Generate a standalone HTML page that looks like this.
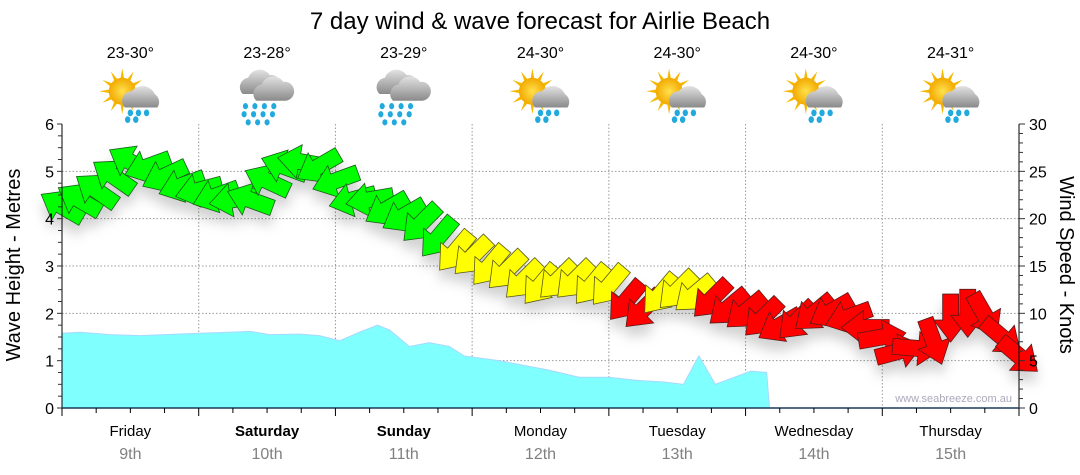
<!DOCTYPE html>
<html><head><meta charset="utf-8"><style>
body{margin:0;background:#fff;}
svg{display:block;font-family:"Liberation Sans","DejaVu Sans",sans-serif;}
</style></head><body>
<svg id="chart" width="1080" height="475" viewBox="0 0 1080 475">
<defs>
<filter id="shadow" x="-50%" y="-50%" width="200%" height="200%"><feDropShadow dx="0" dy="10" stdDeviation="6" flood-color="#000" flood-opacity="0.18"/></filter>
<radialGradient id="sunG" cx="50%" cy="50%" r="50%"><stop offset="0" stop-color="#ffe14d"/><stop offset="1" stop-color="#f2a900"/></radialGradient>
<linearGradient id="cloudG" x1="0" y1="0" x2="0" y2="1"><stop offset="0" stop-color="#e2e2e2"/><stop offset="1" stop-color="#8a8a8a"/></linearGradient>
</defs>
<text x="540" y="29" text-anchor="middle" font-size="24" fill="#000">7 day wind &amp; wave forecast for Airlie Beach</text>
<g id="grid"></g>
<g id="wave"></g>
<g id="wind" filter="url(#shadow)"></g>
<g id="axes"></g>
<g id="header"></g>
<text x="1012" y="402" text-anchor="end" font-size="11" fill="#aab">www.seabreeze.com.au</text>
<text transform="translate(20,265) rotate(-90)" text-anchor="middle" font-size="20" fill="#000">Wave Height - Metres</text>
<text transform="translate(1060,265) rotate(90)" text-anchor="middle" font-size="20" fill="#000">Wind Speed - Knots</text>
</svg>
<script>
const days = ["Friday","Saturday","Sunday","Monday","Tuesday","Wednesday","Thursday"];
const dates = ["9th","10th","11th","12th","13th","14th","15th"];
const boldDays = [false,true,true,false,false,false,false];
const temps = ["23-30°","23-28°","23-29°","24-30°","24-30°","24-30°","24-31°"];
const icons = ["suncloudrain","rain","rain","suncloudrain","suncloudrain","suncloudrain","suncloudrain"];
const waveHours = [0,3.2,8.4,13.7,18,24.2,29.4,33,36.4,41.7,45.2,48.7,52.2,55.4,57.5,61,64.5,68,70.6,76.7,85.5,90.8,96,101.3,105.7,109.1,111.8,114.7,120.9,123.7,124.2];
const waveHeights = [1.58,1.6,1.55,1.53,1.55,1.58,1.6,1.62,1.55,1.56,1.53,1.42,1.6,1.75,1.65,1.3,1.38,1.3,1.1,1.0,0.8,0.65,0.65,0.58,0.55,0.5,1.1,0.5,0.78,0.75,0];
const windSpeeds = [21.3,22,23,24.5,26,25.5,24.5,23.5,
 23,22.4,22,22,24,25.5,26,25.5,
 24,22,22,21,20.3,19.5,18,16.5,
 16,15,14.5,13.5,13,13.5,13.5,13,
 12.9,11.3,10.4,12,12.4,12,11.5,10.6,
 10.2,9.5,8.7,9.2,10,10.2,9.6,8.5,
 7.5,6,6.3,7,9.5,10,9.8,7.5,5.5];
const windBearings = [300,300,305,305,300,250,245,250,
 255,250,260,290,295,290,280,240,
 250,255,260,240,240,225,220,220,
 225,220,225,225,220,225,225,220,
 220,220,225,220,225,230,225,230,
 230,225,240,225,230,240,250,270,
 80,75,95,160,180,180,150,130,130];
const windStepHours = 3;

const NS="http://www.w3.org/2000/svg";
const X0=62, X1=1019, Y0=408, Y1=124;
const totalHours=168;
const xh = h => X0 + (X1-X0)*h/totalHours;
const ym = m => Y0 - (Y0-Y1)*m/6;
const yk = k => Y0 - (Y0-Y1)*k/30;
function mk(tag, attrs, parent, txt){const e=document.createElementNS(NS,tag);for(const k in attrs)e.setAttribute(k,attrs[k]);if(txt!==undefined)e.textContent=txt;parent.appendChild(e);return e;}
const grid=document.getElementById('grid'), axes=document.getElementById('axes'), wave=document.getElementById('wave'), wind=document.getElementById('wind'), header=document.getElementById('header');

for(let m=1;m<=5;m++){const l=mk('line',{x1:X0,x2:X1,y1:ym(m),y2:ym(m),stroke:'#999','stroke-dasharray':'1.5,2','stroke-width':1},grid);

}
for(let d=1;d<7;d++){const l=mk('line',{x1:xh(d*24),x2:xh(d*24),y1:Y1,y2:Y0,stroke:'#999','stroke-dasharray':'1.5,2','stroke-width':1},grid);

}

let pts = `${xh(waveHours[0])},${Y0} `;
waveHours.forEach((h,i)=>{pts+=`${xh(h)},${ym(waveHeights[i])} `;});
pts += `${xh(waveHours[waveHours.length-1])},${Y0}`;
const wa=mk('polygon',{points:pts,fill:'#80ffff',stroke:'#a8d8ff','stroke-width':1},wave);



windSpeeds.forEach((s,i)=>{
  const x=xh(i*windStepHours), y=yk(s);
  const fill = s>=17?'#00ff00':(s>=12?'#ffff00':'#ff0000');
  const stroke = s>=17?'#1a5a1a':(s>=12?'#5a5a1a':'#5a1a1a');
  const a=mk('polygon',{points:'-24,-8 2,-8 2,-17 24,0 2,17 2,8 -24,8',fill:fill,stroke:stroke,'stroke-width':0.8,
    transform:`translate(${x},${y}) rotate(${windBearings[i]-90})`},wind);
  
  
});

mk('line',{x1:X0,x2:X0,y1:Y1,y2:Y0,stroke:'#000'},axes);
mk('line',{x1:X1,x2:X1,y1:Y1,y2:Y0,stroke:'#000'},axes);
mk('line',{x1:X0,x2:X1,y1:Y0,y2:Y0,stroke:'#1a3a5a','stroke-width':1.5},axes);
for(let q=0;q<=24;q++){const m=q/4,y=ym(m);mk('line',{x1:X0-(q%4?4:5),x2:X0,y1:y,y2:y,stroke:'#333'},axes);
 if(q%4===0){const t=mk('text',{x:X0-8,y:y+6,'text-anchor':'end','font-size':16,fill:'#000'},axes,String(m));
 
 }}
for(let k=0;k<=30;k++){const y=yk(k);mk('line',{x1:X1,x2:X1+(k%5?4:6),y1:y,y2:y,stroke:'#333'},axes);
 if(k%5===0){const t=mk('text',{x:X1+10,y:y+6,'font-size':16,fill:'#000'},axes,String(k));
 
 }}
for(let h=0;h<=168;h+=6){const x=xh(h);mk('line',{x1:x,x2:x,y1:Y0,y2:Y0+(h%24?5:8),stroke:'#000'},axes);}
days.forEach((d,i)=>{const cx=xh(i*24+12);
 const t=mk('text',{x:cx,y:436,'text-anchor':'middle','font-size':15,fill:'#000','font-weight':boldDays[i]?'bold':'normal'},axes,d);
 
 
 const t2=mk('text',{x:cx,y:459,'text-anchor':'middle','font-size':16,fill:'#808080'},axes,dates[i]);
 
 
 const tt=mk('text',{x:cx,y:58,'text-anchor':'middle','font-size':16,fill:'#000'},header,temps[i]);
 
 
 const g=mk('g',{transform:`translate(${cx},94) scale(1.35)`},header);
 
 
 if(icons[i]==='suncloudrain'){
   for(let r=0;r<12;r++){mk('polygon',{points:'-3,0 3,0 0,-17',fill:'#f5b800',transform:`translate(-6,-2) rotate(${r*30})`},g);}
   mk('circle',{cx:-6,cy:-2,r:10,fill:'url(#sunG)'},g);
   mk('path',{d:'M-4,10 a7,7 0 0 1 5,-12 a10,10 0 0 1 17,2 a7,7 0 0 1 2,10 z',fill:'url(#cloudG)'},g);
   [[0,14],[6,14],[12,14],[-2,19],[4,19]].forEach(p=>mk('ellipse',{cx:p[0],cy:p[1],rx:2,ry:2.5,fill:'#22aadd'},g));
 } else {
   mk('path',{d:'M-18,0 a7,7 0 0 1 4,-12 a9,9 0 0 1 16,-2 a6,6 0 0 1 2,14 z',fill:'url(#cloudG)'},g);
   mk('path',{d:'M-8,5 a7,7 0 0 1 4,-12 a9,9 0 0 1 16,-2 a6,6 0 0 1 2,14 z',fill:'url(#cloudG)'},g);
   [[-16,9],[-9,9],[-2,9],[5,9],[-17,15],[-10,15],[-3,15],[4,15],[-14,21],[-7,21],[0,21]].forEach(p=>mk('ellipse',{cx:p[0],cy:p[1],rx:1.9,ry:2.3,fill:'#22aadd'},g));
 }
});
</script>
</body></html>
